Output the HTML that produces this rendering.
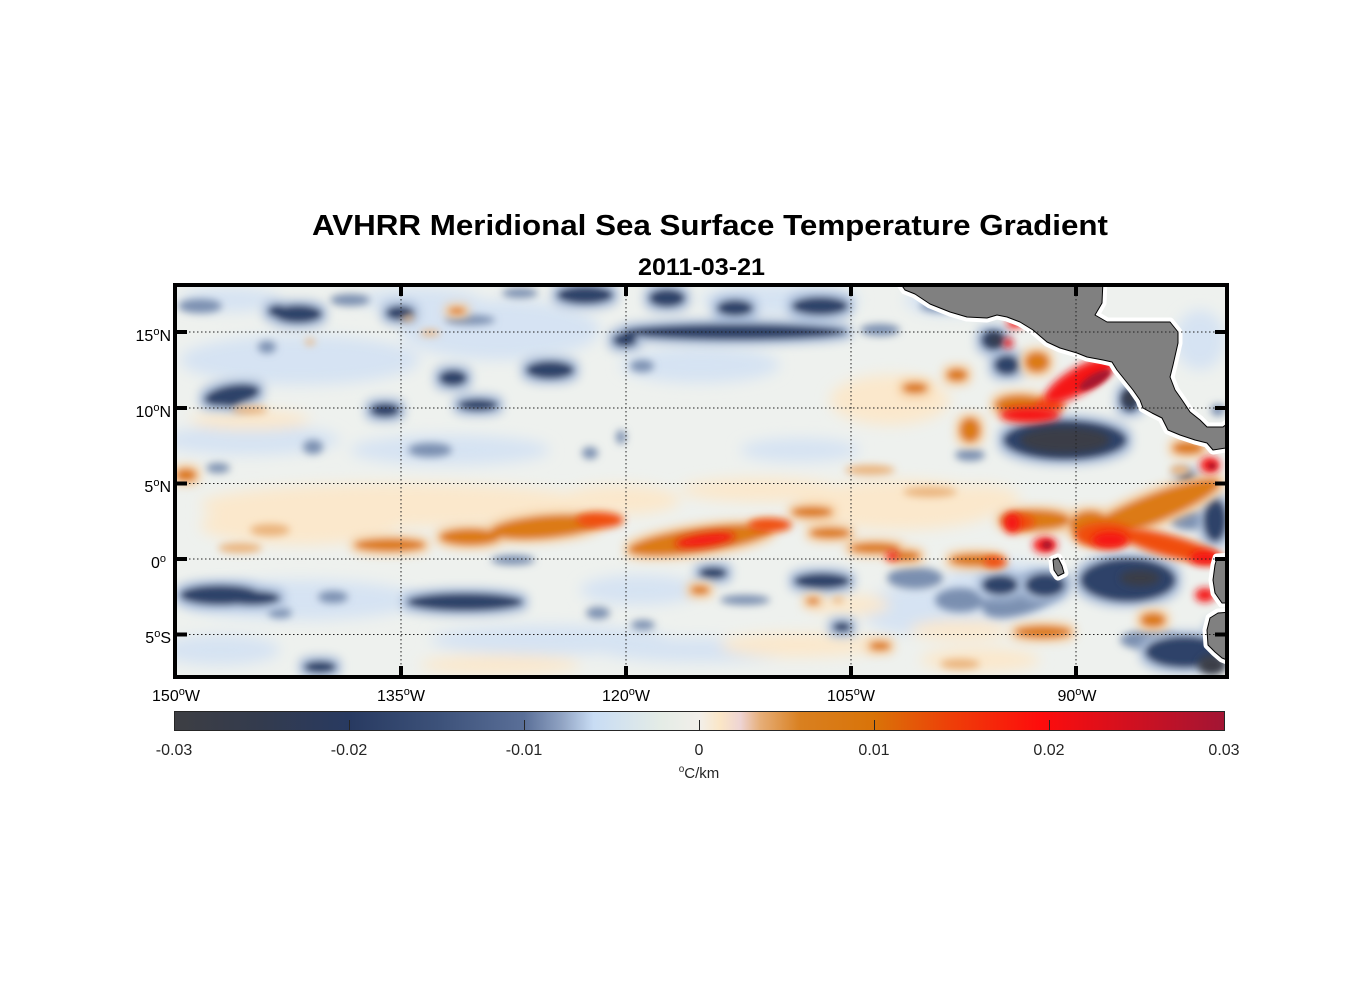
<!DOCTYPE html>
<html><head><meta charset="utf-8"><style>
html,body{margin:0;padding:0;background:#fff;}
svg{display:block;}
text{font-family:"Liberation Sans",Arial,sans-serif;}
</style></head><body>
<svg width="1356" height="1000" viewBox="0 0 1356 1000" xmlns="http://www.w3.org/2000/svg">
<defs>
<filter id="b2" x="-10%" y="-10%" width="120%" height="120%"><feGaussianBlur stdDeviation="2.5"/></filter>
<filter id="b7" x="-10%" y="-10%" width="120%" height="120%"><feGaussianBlur stdDeviation="7"/></filter>
<filter id="hb" x="-20%" y="-20%" width="140%" height="140%">
 <feMorphology in="SourceAlpha" operator="dilate" radius="5" result="d"/>
 <feGaussianBlur in="d" stdDeviation="5" result="db"/>
 <feFlood flood-color="#a9bcd8" result="c"/>
 <feComposite in="c" in2="db" operator="in" result="h"/>
 <feGaussianBlur in="SourceGraphic" stdDeviation="3.5" result="s"/>
 <feMerge><feMergeNode in="h"/><feMergeNode in="s"/></feMerge>
</filter>
<filter id="ho" x="-20%" y="-20%" width="140%" height="140%">
 <feMorphology in="SourceAlpha" operator="dilate" radius="4" result="d"/>
 <feGaussianBlur in="d" stdDeviation="5" result="db"/>
 <feFlood flood-color="#f4c898" result="c"/>
 <feComposite in="c" in2="db" operator="in" result="h"/>
 <feGaussianBlur in="SourceGraphic" stdDeviation="3.5" result="s"/>
 <feMerge><feMergeNode in="h"/><feMergeNode in="s"/></feMerge>
</filter>
<filter id="b4" x="-20%" y="-20%" width="140%" height="140%"><feGaussianBlur stdDeviation="4"/></filter>
<clipPath id="map"><rect x="177" y="287" width="1048" height="388"/></clipPath>
<linearGradient id="cb" x1="0" x2="1" y1="0" y2="0">
<stop offset="0" stop-color="#3d3e43"/>
<stop offset="0.082" stop-color="#333b4e"/>
<stop offset="0.167" stop-color="#283a61"/>
<stop offset="0.253" stop-color="#3d527a"/>
<stop offset="0.333" stop-color="#5a6f98"/>
<stop offset="0.368" stop-color="#8fa2c2"/>
<stop offset="0.399" stop-color="#c8dcf4"/>
<stop offset="0.463" stop-color="#e4ece6"/>
<stop offset="0.5" stop-color="#f2efea"/>
<stop offset="0.52" stop-color="#fbe6c6"/>
<stop offset="0.539" stop-color="#eed4d4"/>
<stop offset="0.558" stop-color="#e6ae78"/>
<stop offset="0.596" stop-color="#d98020"/>
<stop offset="0.667" stop-color="#d97308"/>
<stop offset="0.739" stop-color="#ee3f08"/>
<stop offset="0.825" stop-color="#fe0c0c"/>
<stop offset="1" stop-color="#a21534"/>
</linearGradient>
</defs>

<!-- Titles -->
<text x="312" y="235" font-size="29" font-weight="bold" fill="#000" textLength="796" lengthAdjust="spacingAndGlyphs">AVHRR Meridional Sea Surface Temperature Gradient</text>
<text x="638" y="275" font-size="24" font-weight="bold" fill="#000" textLength="127" lengthAdjust="spacingAndGlyphs">2011-03-21</text>

<g clip-path="url(#map)">
<rect x="170" y="280" width="1060" height="400" fill="#eef1ee"/>
<!-- haze -->
<g filter="url(#b7)">
<g fill="#d6e3f3">
<ellipse cx="300" cy="360" rx="120" ry="25"/>
<ellipse cx="500" cy="330" rx="100" ry="30"/>
<ellipse cx="700" cy="365" rx="80" ry="18"/>
<ellipse cx="250" cy="440" rx="90" ry="15"/>
<ellipse cx="450" cy="450" rx="100" ry="15"/>
<ellipse cx="800" cy="450" rx="60" ry="12"/>
<ellipse cx="300" cy="600" rx="120" ry="20"/>
<ellipse cx="550" cy="640" rx="120" ry="15"/>
<ellipse cx="700" cy="650" rx="100" ry="12"/>
<ellipse cx="920" cy="610" rx="60" ry="25"/>
<ellipse cx="220" cy="650" rx="60" ry="15"/>
<ellipse cx="420" cy="300" rx="60" ry="12"/>
<ellipse cx="950" cy="300" rx="45" ry="15"/>
<ellipse cx="1000" cy="590" rx="60" ry="30"/>
<ellipse cx="640" cy="590" rx="60" ry="15"/>
<ellipse cx="780" cy="300" rx="80" ry="15"/>
<ellipse cx="1200" cy="340" rx="25" ry="30"/>
<ellipse cx="230" cy="300" rx="50" ry="12"/>
</g>
<g fill="#fbe8cc">
<ellipse cx="400" cy="505" rx="200" ry="22"/>
<ellipse cx="300" cy="525" rx="100" ry="20"/>
<ellipse cx="760" cy="490" rx="80" ry="12"/>
<ellipse cx="900" cy="505" rx="100" ry="25"/>
<ellipse cx="890" cy="400" rx="60" ry="25"/>
<ellipse cx="500" cy="665" rx="80" ry="10"/>
<ellipse cx="800" cy="645" rx="80" ry="12"/>
<ellipse cx="980" cy="660" rx="60" ry="12"/>
<ellipse cx="250" cy="420" rx="60" ry="10"/>
<ellipse cx="620" cy="500" rx="60" ry="15"/>
<ellipse cx="850" cy="605" rx="40" ry="10"/>
<ellipse cx="980" cy="500" rx="40" ry="15"/>
<ellipse cx="960" cy="630" rx="50" ry="10"/>
</g>
</g>

<!-- medium blues -->
<g filter="url(#b4)" fill="#7a8fb0">
<ellipse cx="200" cy="306" rx="22" ry="7"/>
<ellipse cx="267" cy="347" rx="9" ry="6"/>
<ellipse cx="520" cy="293" rx="18" ry="5"/>
<ellipse cx="470" cy="320" rx="25" ry="5"/>
<ellipse cx="313" cy="447" rx="10" ry="7"/>
<ellipse cx="218" cy="468" rx="12" ry="5"/>
<ellipse cx="430" cy="450" rx="22" ry="7"/>
<ellipse cx="590" cy="453" rx="8" ry="6"/>
<ellipse cx="621" cy="437" rx="5" ry="7"/>
<ellipse cx="642" cy="366" rx="12" ry="6"/>
<ellipse cx="333" cy="597" rx="15" ry="6"/>
<ellipse cx="598" cy="613" rx="12" ry="6"/>
<ellipse cx="280" cy="613" rx="12" ry="5"/>
<ellipse cx="513" cy="560" rx="22" ry="5"/>
<ellipse cx="643" cy="625" rx="12" ry="5"/>
<ellipse cx="915" cy="578" rx="28" ry="11"/>
<ellipse cx="1025" cy="595" rx="45" ry="18" transform="rotate(-20 1025 595)"/>
<ellipse cx="970" cy="455" rx="15" ry="6"/>
<ellipse cx="1000" cy="302" rx="25" ry="10"/>
<ellipse cx="940" cy="306" rx="20" ry="6"/>
<ellipse cx="1190" cy="520" rx="20" ry="10"/>
<ellipse cx="745" cy="600" rx="25" ry="5"/>
<ellipse cx="960" cy="600" rx="25" ry="12"/>
<ellipse cx="1150" cy="640" rx="30" ry="10"/>
<ellipse cx="1218" cy="410" rx="7" ry="6"/>
<ellipse cx="350" cy="300" rx="20" ry="6"/>
<ellipse cx="880" cy="330" rx="20" ry="6"/>
</g>
<!-- dark blues -->
<g filter="url(#hb)" fill="#2f4369">
<ellipse cx="298" cy="314" rx="24" ry="9"/>
<ellipse cx="278" cy="311" rx="10" ry="6"/>
<ellipse cx="400" cy="313" rx="14" ry="7"/>
<ellipse cx="585" cy="295" rx="28" ry="9"/>
<ellipse cx="667" cy="298" rx="18" ry="9"/>
<ellipse cx="735" cy="308" rx="18" ry="8"/>
<ellipse cx="820" cy="306" rx="28" ry="9"/>
<ellipse cx="735" cy="332" rx="112" ry="8"/>
<ellipse cx="625" cy="340" rx="12" ry="7"/>
<ellipse cx="550" cy="370" rx="24" ry="9"/>
<ellipse cx="453" cy="378" rx="14" ry="8"/>
<ellipse cx="232" cy="395" rx="28" ry="10" transform="rotate(-10 232 395)"/>
<ellipse cx="385" cy="410" rx="15" ry="7"/>
<ellipse cx="478" cy="405" rx="20" ry="6"/>
<ellipse cx="231" cy="402" rx="10" ry="5"/>
<ellipse cx="993" cy="340" rx="12" ry="10"/>
<ellipse cx="1007" cy="365" rx="13" ry="10"/>
<ellipse cx="1065" cy="440" rx="62" ry="20"/>
<ellipse cx="1130" cy="400" rx="10" ry="12"/>
<ellipse cx="220" cy="595" rx="40" ry="10"/>
<ellipse cx="252" cy="598" rx="28" ry="7"/>
<ellipse cx="465" cy="602" rx="58" ry="9"/>
<ellipse cx="320" cy="667" rx="16" ry="6"/>
<ellipse cx="713" cy="573" rx="14" ry="6"/>
<ellipse cx="822" cy="581" rx="28" ry="8"/>
<ellipse cx="1000" cy="585" rx="18" ry="10"/>
<ellipse cx="842" cy="627" rx="9" ry="5"/>
<ellipse cx="1128" cy="580" rx="48" ry="22"/>
<ellipse cx="1185" cy="652" rx="40" ry="16"/>
<ellipse cx="1215" cy="520" rx="12" ry="22"/>
<ellipse cx="1187" cy="478" rx="8" ry="6"/>
<ellipse cx="1045" cy="585" rx="20" ry="12"/>
<ellipse cx="1218" cy="630" rx="8" ry="6"/>
</g>
<g filter="url(#b4)" fill="#3a3d46">
<ellipse cx="1065" cy="440" rx="45" ry="13"/>
<ellipse cx="1212" cy="665" rx="14" ry="10"/>
<ellipse cx="1130" cy="398" rx="6" ry="8"/>
<ellipse cx="1140" cy="578" rx="20" ry="8"/>
<ellipse cx="995" cy="340" rx="6" ry="5"/>
</g>

<!-- light oranges -->
<g filter="url(#b4)" fill="#eab27a">
<ellipse cx="270" cy="530" rx="20" ry="6"/>
<ellipse cx="240" cy="548" rx="22" ry="5"/>
<ellipse cx="930" cy="492" rx="27" ry="5"/>
<ellipse cx="408" cy="318" rx="6" ry="3"/>
<ellipse cx="310" cy="342" rx="5" ry="3"/>
<ellipse cx="838" cy="600" rx="6" ry="3"/>
<ellipse cx="960" cy="664" rx="20" ry="5"/>
<ellipse cx="250" cy="410" rx="18" ry="4"/>
<ellipse cx="430" cy="333" rx="10" ry="3"/>
<ellipse cx="870" cy="470" rx="25" ry="5"/>
<ellipse cx="1180" cy="470" rx="10" ry="5"/>
</g>
<!-- oranges -->
<g filter="url(#ho)" fill="#dc7a14">
<ellipse cx="545" cy="527" rx="55" ry="11" transform="rotate(-5 545 527)"/>
<ellipse cx="470" cy="537" rx="30" ry="8"/>
<ellipse cx="390" cy="545" rx="35" ry="6"/>
<ellipse cx="186" cy="475" rx="10" ry="6"/>
<ellipse cx="700" cy="540" rx="72" ry="12" transform="rotate(-8 700 540)"/>
<ellipse cx="812" cy="512" rx="20" ry="5"/>
<ellipse cx="830" cy="533" rx="20" ry="5"/>
<ellipse cx="875" cy="548" rx="25" ry="5"/>
<ellipse cx="905" cy="556" rx="15" ry="5"/>
<ellipse cx="975" cy="560" rx="25" ry="6"/>
<ellipse cx="1035" cy="520" rx="35" ry="10"/>
<ellipse cx="1150" cy="510" rx="75" ry="14" transform="rotate(-22 1150 510)"/>
<ellipse cx="1188" cy="448" rx="15" ry="6"/>
<ellipse cx="1153" cy="620" rx="12" ry="7"/>
<ellipse cx="1043" cy="632" rx="28" ry="6"/>
<ellipse cx="700" cy="590" rx="9" ry="4"/>
<ellipse cx="813" cy="601" rx="6" ry="3"/>
<ellipse cx="880" cy="646" rx="10" ry="4"/>
<ellipse cx="1037" cy="362" rx="12" ry="10"/>
<ellipse cx="970" cy="430" rx="10" ry="12"/>
<ellipse cx="957" cy="375" rx="10" ry="6"/>
<ellipse cx="915" cy="388" rx="12" ry="5"/>
<ellipse cx="457" cy="311" rx="8" ry="3"/>
<ellipse cx="1020" cy="405" rx="25" ry="10"/>
<ellipse cx="1090" cy="525" rx="20" ry="14"/>
</g>
<!-- red-orange -->
<g filter="url(#b4)" fill="#f04d0a">
<ellipse cx="600" cy="520" rx="24" ry="8"/>
<ellipse cx="770" cy="525" rx="22" ry="7"/>
<ellipse cx="995" cy="562" rx="12" ry="6"/>
<ellipse cx="1050" cy="405" rx="15" ry="8"/>
<ellipse cx="1170" cy="546" rx="55" ry="11" transform="rotate(15 1170 546)"/>
<ellipse cx="1105" cy="535" rx="30" ry="13"/>
<ellipse cx="1020" cy="522" rx="15" ry="8"/>
</g>
<!-- red -->
<g filter="url(#b4)" fill="#f51212">
<ellipse cx="705" cy="540" rx="30" ry="6" transform="rotate(-8 705 540)"/>
<ellipse cx="892" cy="556" rx="6" ry="4"/>
<ellipse cx="1012" cy="523" rx="8" ry="10"/>
<ellipse cx="1080" cy="380" rx="40" ry="13" transform="rotate(-30 1080 380)"/>
<ellipse cx="1030" cy="415" rx="30" ry="8"/>
<ellipse cx="1015" cy="323" rx="8" ry="5"/>
<ellipse cx="1008" cy="343" rx="5" ry="5"/>
<ellipse cx="1045" cy="545" rx="12" ry="8"/>
<ellipse cx="1210" cy="465" rx="10" ry="8"/>
<ellipse cx="1205" cy="595" rx="10" ry="7"/>
<ellipse cx="1110" cy="540" rx="18" ry="8"/>
<ellipse cx="1205" cy="558" rx="15" ry="7"/>
</g>
<!-- crimson -->
<g filter="url(#b2)" fill="#a8182f">
<ellipse cx="1095" cy="380" rx="18" ry="6" transform="rotate(-30 1095 380)"/>
<ellipse cx="1047" cy="545" rx="5" ry="4"/>
<ellipse cx="1212" cy="466" rx="4" ry="3"/>
</g>

<!-- land -->
<g fill="#808080" stroke="#fff" stroke-width="9" stroke-linejoin="round">
<path d="M898,280 L905,290 L915,294 L930,304 L950,312 L967,317 L987,318 L997,315 L1007,317 L1020,322 L1033,330 L1047,342 L1060,348 L1077,353 L1087,357 L1103,360 L1112,362 L1117,370 L1125,380 L1133,390 L1140,400 L1143,408 L1152,413 L1162,418 L1168,430 L1180,435 L1195,440 L1207,443 L1213,450 L1232,447 L1232,420 L1223,427 L1207,427 L1200,420 L1190,412 L1182,400 L1175,390 L1170,377 L1173,365 L1178,343 L1178,332 L1170,322 L1147,322 L1107,322 L1095,315 L1102,303 L1103,280 Z"/>
<path d="M1232,557 L1217,558 L1215,565 L1213,580 L1215,593 L1222,603 L1232,603 Z"/>
<path d="M1232,612 L1218,613 L1210,618 L1207,630 L1208,645 L1215,652 L1222,658 L1232,662 Z"/>
<path d="M1053,560 L1058,558 L1062,566 L1064,573 L1058,576 L1054,570 Z"/>
</g>
<g fill="#808080" stroke="#000" stroke-width="1" stroke-linejoin="round">
<path d="M898,280 L905,290 L915,294 L930,304 L950,312 L967,317 L987,318 L997,315 L1007,317 L1020,322 L1033,330 L1047,342 L1060,348 L1077,353 L1087,357 L1103,360 L1112,362 L1117,370 L1125,380 L1133,390 L1140,400 L1143,408 L1152,413 L1162,418 L1168,430 L1180,435 L1195,440 L1207,443 L1213,450 L1232,447 L1232,420 L1223,427 L1207,427 L1200,420 L1190,412 L1182,400 L1175,390 L1170,377 L1173,365 L1178,343 L1178,332 L1170,322 L1147,322 L1107,322 L1095,315 L1102,303 L1103,280 Z"/>
<path d="M1232,557 L1217,558 L1215,565 L1213,580 L1215,593 L1222,603 L1232,603 Z"/>
<path d="M1232,612 L1218,613 L1210,618 L1207,630 L1208,645 L1215,652 L1222,658 L1232,662 Z"/>
<path d="M1053,560 L1058,558 L1062,566 L1064,573 L1058,576 L1054,570 Z"/>
</g>

<!-- grid -->
<g stroke="#222" stroke-width="1" stroke-dasharray="1.5,2.5" fill="none">
<line x1="177" y1="332" x2="1225" y2="332"/>
<line x1="177" y1="408" x2="1225" y2="408"/>
<line x1="177" y1="483.5" x2="1225" y2="483.5"/>
<line x1="177" y1="559" x2="1225" y2="559"/>
<line x1="177" y1="634.5" x2="1225" y2="634.5"/>
<line x1="401" y1="287" x2="401" y2="675"/>
<line x1="626" y1="287" x2="626" y2="675"/>
<line x1="851" y1="287" x2="851" y2="675"/>
<line x1="1076" y1="287" x2="1076" y2="675"/>
</g>
</g>

<!-- frame -->
<rect x="175" y="285" width="1052" height="392" fill="none" stroke="#000" stroke-width="4"/>
<g stroke="#000" stroke-width="4">
<line x1="175" y1="332" x2="187" y2="332"/>
<line x1="175" y1="408" x2="187" y2="408"/>
<line x1="175" y1="483.5" x2="187" y2="483.5"/>
<line x1="175" y1="559" x2="187" y2="559"/>
<line x1="175" y1="634.5" x2="187" y2="634.5"/>
<line x1="1227" y1="332" x2="1215" y2="332"/>
<line x1="1227" y1="408" x2="1215" y2="408"/>
<line x1="1227" y1="483.5" x2="1215" y2="483.5"/>
<line x1="1227" y1="559" x2="1215" y2="559"/>
<line x1="1227" y1="634.5" x2="1215" y2="634.5"/>
<line x1="401" y1="285" x2="401" y2="296"/>
<line x1="626" y1="285" x2="626" y2="296"/>
<line x1="851" y1="285" x2="851" y2="296"/>
<line x1="1076" y1="285" x2="1076" y2="296"/>
<line x1="401" y1="677" x2="401" y2="666"/>
<line x1="626" y1="677" x2="626" y2="666"/>
<line x1="851" y1="677" x2="851" y2="666"/>
<line x1="1076" y1="677" x2="1076" y2="666"/>
</g>

<!-- y labels -->
<g font-size="16" fill="#000" text-anchor="end">
<text x="171" y="341">15<tspan font-size="11" dy="-6">o</tspan><tspan dy="6">N</tspan></text>
<text x="171" y="417">10<tspan font-size="11" dy="-6">o</tspan><tspan dy="6">N</tspan></text>
<text x="171" y="492">5<tspan font-size="11" dy="-6">o</tspan><tspan dy="6">N</tspan></text>
<text x="166" y="568">0<tspan font-size="11" dy="-6">o</tspan></text>
<text x="171" y="643">5<tspan font-size="11" dy="-6">o</tspan><tspan dy="6">S</tspan></text>
</g>
<!-- x labels -->
<g font-size="16" fill="#000" text-anchor="middle">
<text x="176" y="701">150<tspan font-size="11" dy="-6">o</tspan><tspan dy="6">W</tspan></text>
<text x="401" y="701">135<tspan font-size="11" dy="-6">o</tspan><tspan dy="6">W</tspan></text>
<text x="626" y="701">120<tspan font-size="11" dy="-6">o</tspan><tspan dy="6">W</tspan></text>
<text x="851" y="701">105<tspan font-size="11" dy="-6">o</tspan><tspan dy="6">W</tspan></text>
<text x="1077" y="701">90<tspan font-size="11" dy="-6">o</tspan><tspan dy="6">W</tspan></text>
</g>

<!-- colorbar -->
<rect x="174.5" y="711.5" width="1050" height="19" fill="url(#cb)" stroke="#262626" stroke-width="1"/>
<g stroke="#262626" stroke-width="1">
<line x1="349.5" y1="720" x2="349.5" y2="730"/>
<line x1="524.5" y1="720" x2="524.5" y2="730"/>
<line x1="699.5" y1="720" x2="699.5" y2="730"/>
<line x1="874.5" y1="720" x2="874.5" y2="730"/>
<line x1="1049.5" y1="720" x2="1049.5" y2="730"/>
</g>
<g font-size="16" fill="#262626" text-anchor="middle">
<text x="174" y="755">-0.03</text>
<text x="349" y="755">-0.02</text>
<text x="524" y="755">-0.01</text>
<text x="699" y="755">0</text>
<text x="874" y="755">0.01</text>
<text x="1049" y="755">0.02</text>
<text x="1224" y="755">0.03</text>
<text x="699" y="778" font-size="15"><tspan font-size="10" dy="-6">o</tspan><tspan dy="6">C/km</tspan></text>
</g>
</svg>
</body></html>
